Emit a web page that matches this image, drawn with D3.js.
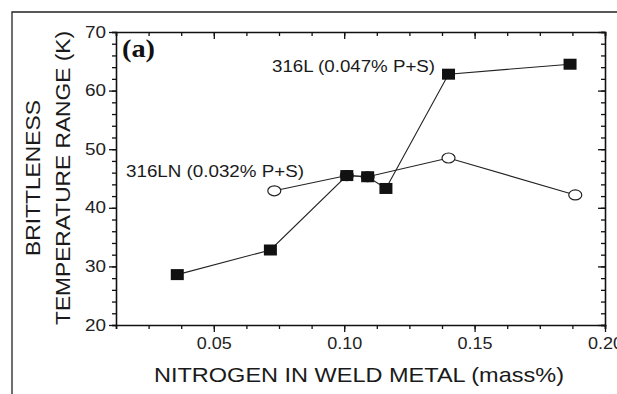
<!DOCTYPE html>
<html lang="en">
<head>
  <meta charset="UTF-8">
  <title>Brittleness temperature range vs nitrogen</title>
  <style>
    html, body { margin: 0; padding: 0; background: #fff; }
    svg { display: block; }
    .axis text { font-family: Arial, "Liberation Sans", sans-serif; font-size: 16px; fill: #222; }
    .axis path, .axis line { stroke: #111; }
    .axis path { stroke-width: 1.6; }
    .axis line { stroke-width: 1.3; }
    .title { font-family: Arial, "Liberation Sans", sans-serif; font-size: 21px; fill: #1a1a1a; }
    .note { font-family: Arial, "Liberation Sans", sans-serif; font-size: 16px; fill: #1a1a1a; }
  </style>
</head>
<body>
<div class="chart"></div>
<script src="https://cdn.jsdelivr.net/npm/d3@7"></script>
<script>
  // 316L weld metal (0.047% P+S)
  const n316L = [0.036, 0.0717, 0.101, 0.109, 0.116, 0.140, 0.1866];
  const btr316L = [28.6, 32.8, 45.5, 45.3, 43.3, 62.8, 64.5];
  // 316LN weld metal (0.032% P+S)
  const n316LN = [0.0732, 0.101, 0.109, 0.140, 0.1886];
  const btr316LN = [42.9, 45.5, 45.3, 48.5, 42.2];

  const xMajor = [0.05, 0.10, 0.15, 0.20];
  const xMinor = d3.range(1, 17).map(i => +(0.0125 * i).toFixed(4));
  const yMajor = [20, 30, 40, 50, 60, 70];
  const yMinor = d3.range(20, 71, 2);

  const width = 617, height = 394;
  const plot = {left: 116, right: 605, top: 32, bottom: 325};

  // the lettering is set a little wider than plain Arial
  const wide = (sel, len) => sel.attr("textLength", len).attr("lengthAdjust", "spacingAndGlyphs");

  const svg = d3.select(".chart").append("svg")
    .attr("width", width)
    .attr("height", height);

  // outer frame (only top and left edges fall inside the page)
  svg.append("path")
    .attr("d", `M12,${height} L12,12 L${width},12`)
    .attr("fill", "none")
    .attr("stroke", "#222")
    .attr("stroke-width", 1.3);

  const x = d3.scaleLinear().domain([0.0125, 0.2]).range([plot.left, plot.right]);
  const y = d3.scaleLinear().domain([20, 70]).range([plot.bottom, plot.top]);

  // bottom axis: outward ticks with labels
  const gBottom = svg.append("g").attr("class", "axis")
    .attr("transform", `translate(0,${plot.bottom})`);
  gBottom.call(d3.axisBottom(x).tickValues(xMinor).tickSize(4).tickFormat(""));
  gBottom.append("g").call(d3.axisBottom(x).tickValues(xMajor).tickSize(7).tickPadding(6)
    .tickFormat(d3.format(".2f")))
    .call(g => g.select(".domain").remove())
    .call(g => g.selectAll("text").call(wide, 35));

  // top axis: inward ticks
  const gTop = svg.append("g").attr("class", "axis")
    .attr("transform", `translate(0,${plot.top})`);
  gTop.call(d3.axisTop(x).tickValues(xMinor).tickSize(-4).tickFormat(""));
  gTop.append("g").call(d3.axisTop(x).tickValues(xMajor).tickSize(-7).tickFormat(""))
    .call(g => g.select(".domain").remove());

  // left axis: outward ticks with labels
  const gLeft = svg.append("g").attr("class", "axis")
    .attr("transform", `translate(${plot.left},0)`);
  gLeft.call(d3.axisLeft(y).tickValues(yMinor).tickSize(4).tickFormat(""));
  gLeft.append("g").call(d3.axisLeft(y).tickValues(yMajor).tickSize(7).tickPadding(3)
    .tickFormat(d3.format("d")))
    .call(g => g.select(".domain").remove())
    .call(g => g.selectAll("text").call(wide, 21));

  // right axis: inward ticks
  const gRight = svg.append("g").attr("class", "axis")
    .attr("transform", `translate(${plot.right},0)`);
  gRight.call(d3.axisRight(y).tickValues(yMinor).tickSize(-4).tickFormat(""));
  gRight.append("g").call(d3.axisRight(y).tickValues(yMajor).tickSize(-7).tickFormat(""))
    .call(g => g.select(".domain").remove());

  // axis titles
  svg.append("text").attr("class", "title")
    .attr("x", 359)
    .attr("y", 382)
    .attr("text-anchor", "middle")
    .call(wide, 410)
    .text("NITROGEN IN WELD METAL (mass%)");

  const yTitle = svg.append("text").attr("class", "title")
    .attr("transform", "translate(0,178) rotate(-90)")
    .attr("text-anchor", "middle");
  yTitle.append("tspan").attr("x", 0).attr("y", 40).call(wide, 156).text("BRITTLENESS");
  yTitle.append("tspan").attr("x", 0).attr("y", 70).call(wide, 294).text("TEMPERATURE RANGE (K)");

  const line = d3.line().x(d => x(d[0])).y(d => y(d[1]));
  const ptsL = n316L.map((v, i) => [v, btr316L[i]]);
  const ptsLN = n316LN.map((v, i) => [v, btr316LN[i]]);

  // 316LN series: open circles
  svg.append("path").datum(ptsLN)
    .attr("d", line).attr("fill", "none")
    .attr("stroke", "#222").attr("stroke-width", 1.1);
  svg.append("g").selectAll("ellipse").data(ptsLN).enter().append("ellipse")
    .attr("cx", d => x(d[0])).attr("cy", d => y(d[1]))
    .attr("rx", 6.5).attr("ry", 5)
    .attr("fill", "#fff").attr("stroke", "#222").attr("stroke-width", 1.2);

  // 316L series: filled squares
  svg.append("path").datum(ptsL)
    .attr("d", line).attr("fill", "none")
    .attr("stroke", "#222").attr("stroke-width", 1.1);
  svg.append("g").selectAll("rect").data(ptsL).enter().append("rect")
    .attr("x", d => x(d[0]) - 6.5).attr("y", d => y(d[1]) - 5.5)
    .attr("width", 13).attr("height", 11)
    .attr("fill", "#111");

  // series labels
  svg.append("text").attr("class", "note")
    .attr("x", 272).attr("y", 72).call(wide, 163).text("316L (0.047% P+S)");
  svg.append("text").attr("class", "note")
    .attr("x", 126).attr("y", 177).call(wide, 178).text("316LN (0.032% P+S)");

  svg.append("text")
    .attr("x", 122).attr("y", 57)
    .attr("font-family", "'Liberation Serif', 'Times New Roman', serif")
    .attr("font-weight", "bold")
    .attr("font-size", 25)
    .attr("fill", "#111")
    .call(wide, 33)
    .text("(a)");
</script>
</body>
</html>
